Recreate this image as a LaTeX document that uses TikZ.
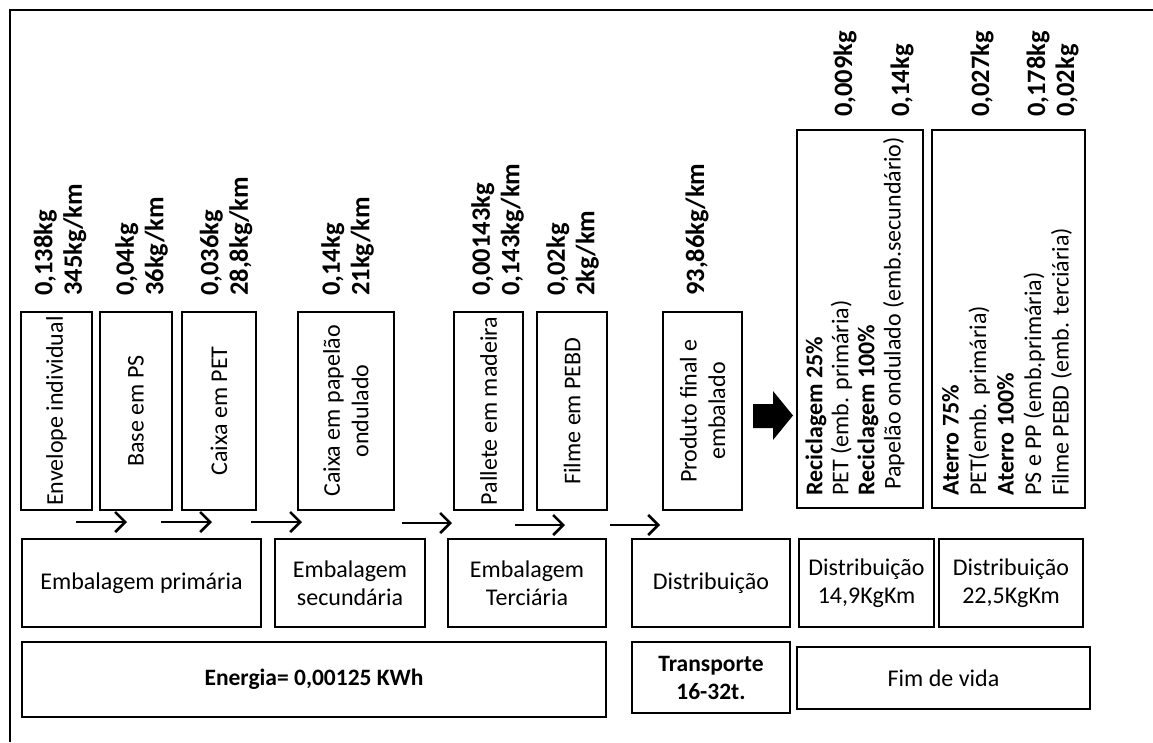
\documentclass[tikz,border=0pt]{standalone}
\usepackage{fontspec}
\setmainfont{Carlito}
\usetikzlibrary{arrows.meta}
\tikzset{
  box/.style={draw=black, line width=2pt, inner sep=2pt, align=center,
    font=\fontsize{24}{28.5}\selectfont},
  vbox/.style={box, rotate=90, minimum width=198pt},
  listbox/.style={draw=black, line width=2pt, rotate=90, minimum width=378pt},
  listtext/.style={rotate=90, anchor=west, align=left, inner sep=0pt},
  lbl/.style={font=\bfseries\fontsize{26.5}{29.5}\selectfont, rotate=90,
    anchor=west, align=left, inner sep=0pt},
  flow/.style={line width=2.6pt, -{Straight Barb[length=10pt,width=20pt,line width=2.6pt]}},
}
\begin{document}
\begin{tikzpicture}[x=1pt,y=-1pt]
\useasboundingbox (0,0) rectangle (1153,742);
% outer frame (left and top edges)
\draw[line width=2pt] (10,742) -- (10,10) -- (1153,10);

% vertical boxes
\node[vbox, minimum height=71pt] (env) at (56.5,411) {Envelope individual};
\node[vbox, minimum height=72pt] (base) at (136,411) {Base em PS};
\node[vbox, minimum height=74pt] (pet) at (219,411) {Caixa em PET};
\node[vbox, minimum height=96pt] (pap) at (346,411) {Caixa em papelão\\ondulado};
\node[vbox, minimum height=69pt] (pal) at (488.5,411) {Pallete em madeira};
\node[vbox, minimum height=70pt] (fil) at (572,411) {Filme em PEBD};
\node[vbox, minimum height=79pt] (prod) at (702.5,411) {Produto final e\\embalado};

% labels above vertical boxes
\node[lbl] (lenv) at (60,296) {0,138kg\\345kg/km};
\node[lbl] (lbase) at (141.5,296) {0,04kg\\36kg/km};
\node[lbl] (lpet) at (226,296) {0,036kg\\28,8kg/km};
\node[lbl] (lpap) at (347.5,296) {0,14kg\\21kg/km};
\node[lbl] (lpal) at (497.5,296) {0,00143kg\\0,143kg/km};
\node[lbl] (lfil) at (572.5,296) {0,02kg\\2kg/km};
\node[lbl] (lprod) at (697,296) {93,86kg/km};

% end-of-life boxes
\node[listbox, minimum height=126pt] (rec) at (860,319) {};
\node[listtext, font=\fontsize{24}{26}\selectfont] (rect) at (855,496)
  {\textbf{Reciclagem 25\%}\\PET (emb. primária)\\\textbf{Reciclagem 100\%}\\\hspace*{6pt}Papelão ondulado (emb.secundário)};
\node[listbox, minimum height=153pt] (ate) at (1008.5,319) {};
\node[listtext, font=\fontsize{24}{27.5}\selectfont] (atet) at (1007,496)
  {\textbf{Aterro 75\%}\\PET(emb. primária)\\\textbf{Aterro 100\%}\\PS e PP (emb.primária)\\Filme PEBD (emb. terciária)};

% labels above end-of-life boxes
\node[lbl] (l1) at (845,117) {0,009kg};
\node[lbl] (l2) at (902,117) {0,14kg};
\node[lbl] (l3) at (982,117) {0,027kg};
\node[lbl] (l4) at (1038,117) {0,178kg};
\node[lbl] (l5) at (1067,117) {0,02kg};

% big block arrow
\fill[black] (753,404) -- (773,404) -- (773,391) -- (793,415.5) -- (773,440) -- (773,428) -- (753,428) -- cycle;

% small flow arrows
\foreach \i/\xa/\xb/\yy in {1/76/127/522, 2/161/212/522, 3/251/302/522, 4/402/452/523, 5/515/565/525, 6/610/660/525}{
  \coordinate (s\i) at (\xa,\yy);
  \coordinate (e\i) at (\xb,\yy);
  \draw[flow] (s\i) -- (e\i);
}

% middle row
\node[box, minimum width=239pt, minimum height=88pt] (prim) at (141.5,583) {Embalagem primária};
\node[box, minimum width=150pt, minimum height=88pt] (sec) at (350,583) {Embalagem\\secundária};
\node[box, minimum width=158pt, minimum height=88pt] (ter) at (527,583) {Embalagem\\Terciária};
\node[box, minimum width=158pt, minimum height=88pt] (dist) at (711,583) {Distribuição};
\node[box, minimum width=135pt, minimum height=88pt] (d1) at (866.5,583) {Distribuição\\14,9KgKm};
\node[box, minimum width=144pt, minimum height=88pt] (d2) at (1011,583) {Distribuição\\22,5KgKm};

% bottom row
\node[box, minimum width=584pt, minimum height=75pt, font=\bfseries\fontsize{23.5}{28}\selectfont] (en) at (314,679.5) {Energia= 0,00125 KWh};
\node[box, minimum width=158pt, minimum height=71pt, font=\bfseries\fontsize{23.5}{28}\selectfont] (tr) at (711,677.5) {Transporte\\16-32t.};
\node[box, minimum width=293pt, minimum height=62pt] (fim) at (943.5,678) {Fim de vida};
\end{tikzpicture}
\end{document}
